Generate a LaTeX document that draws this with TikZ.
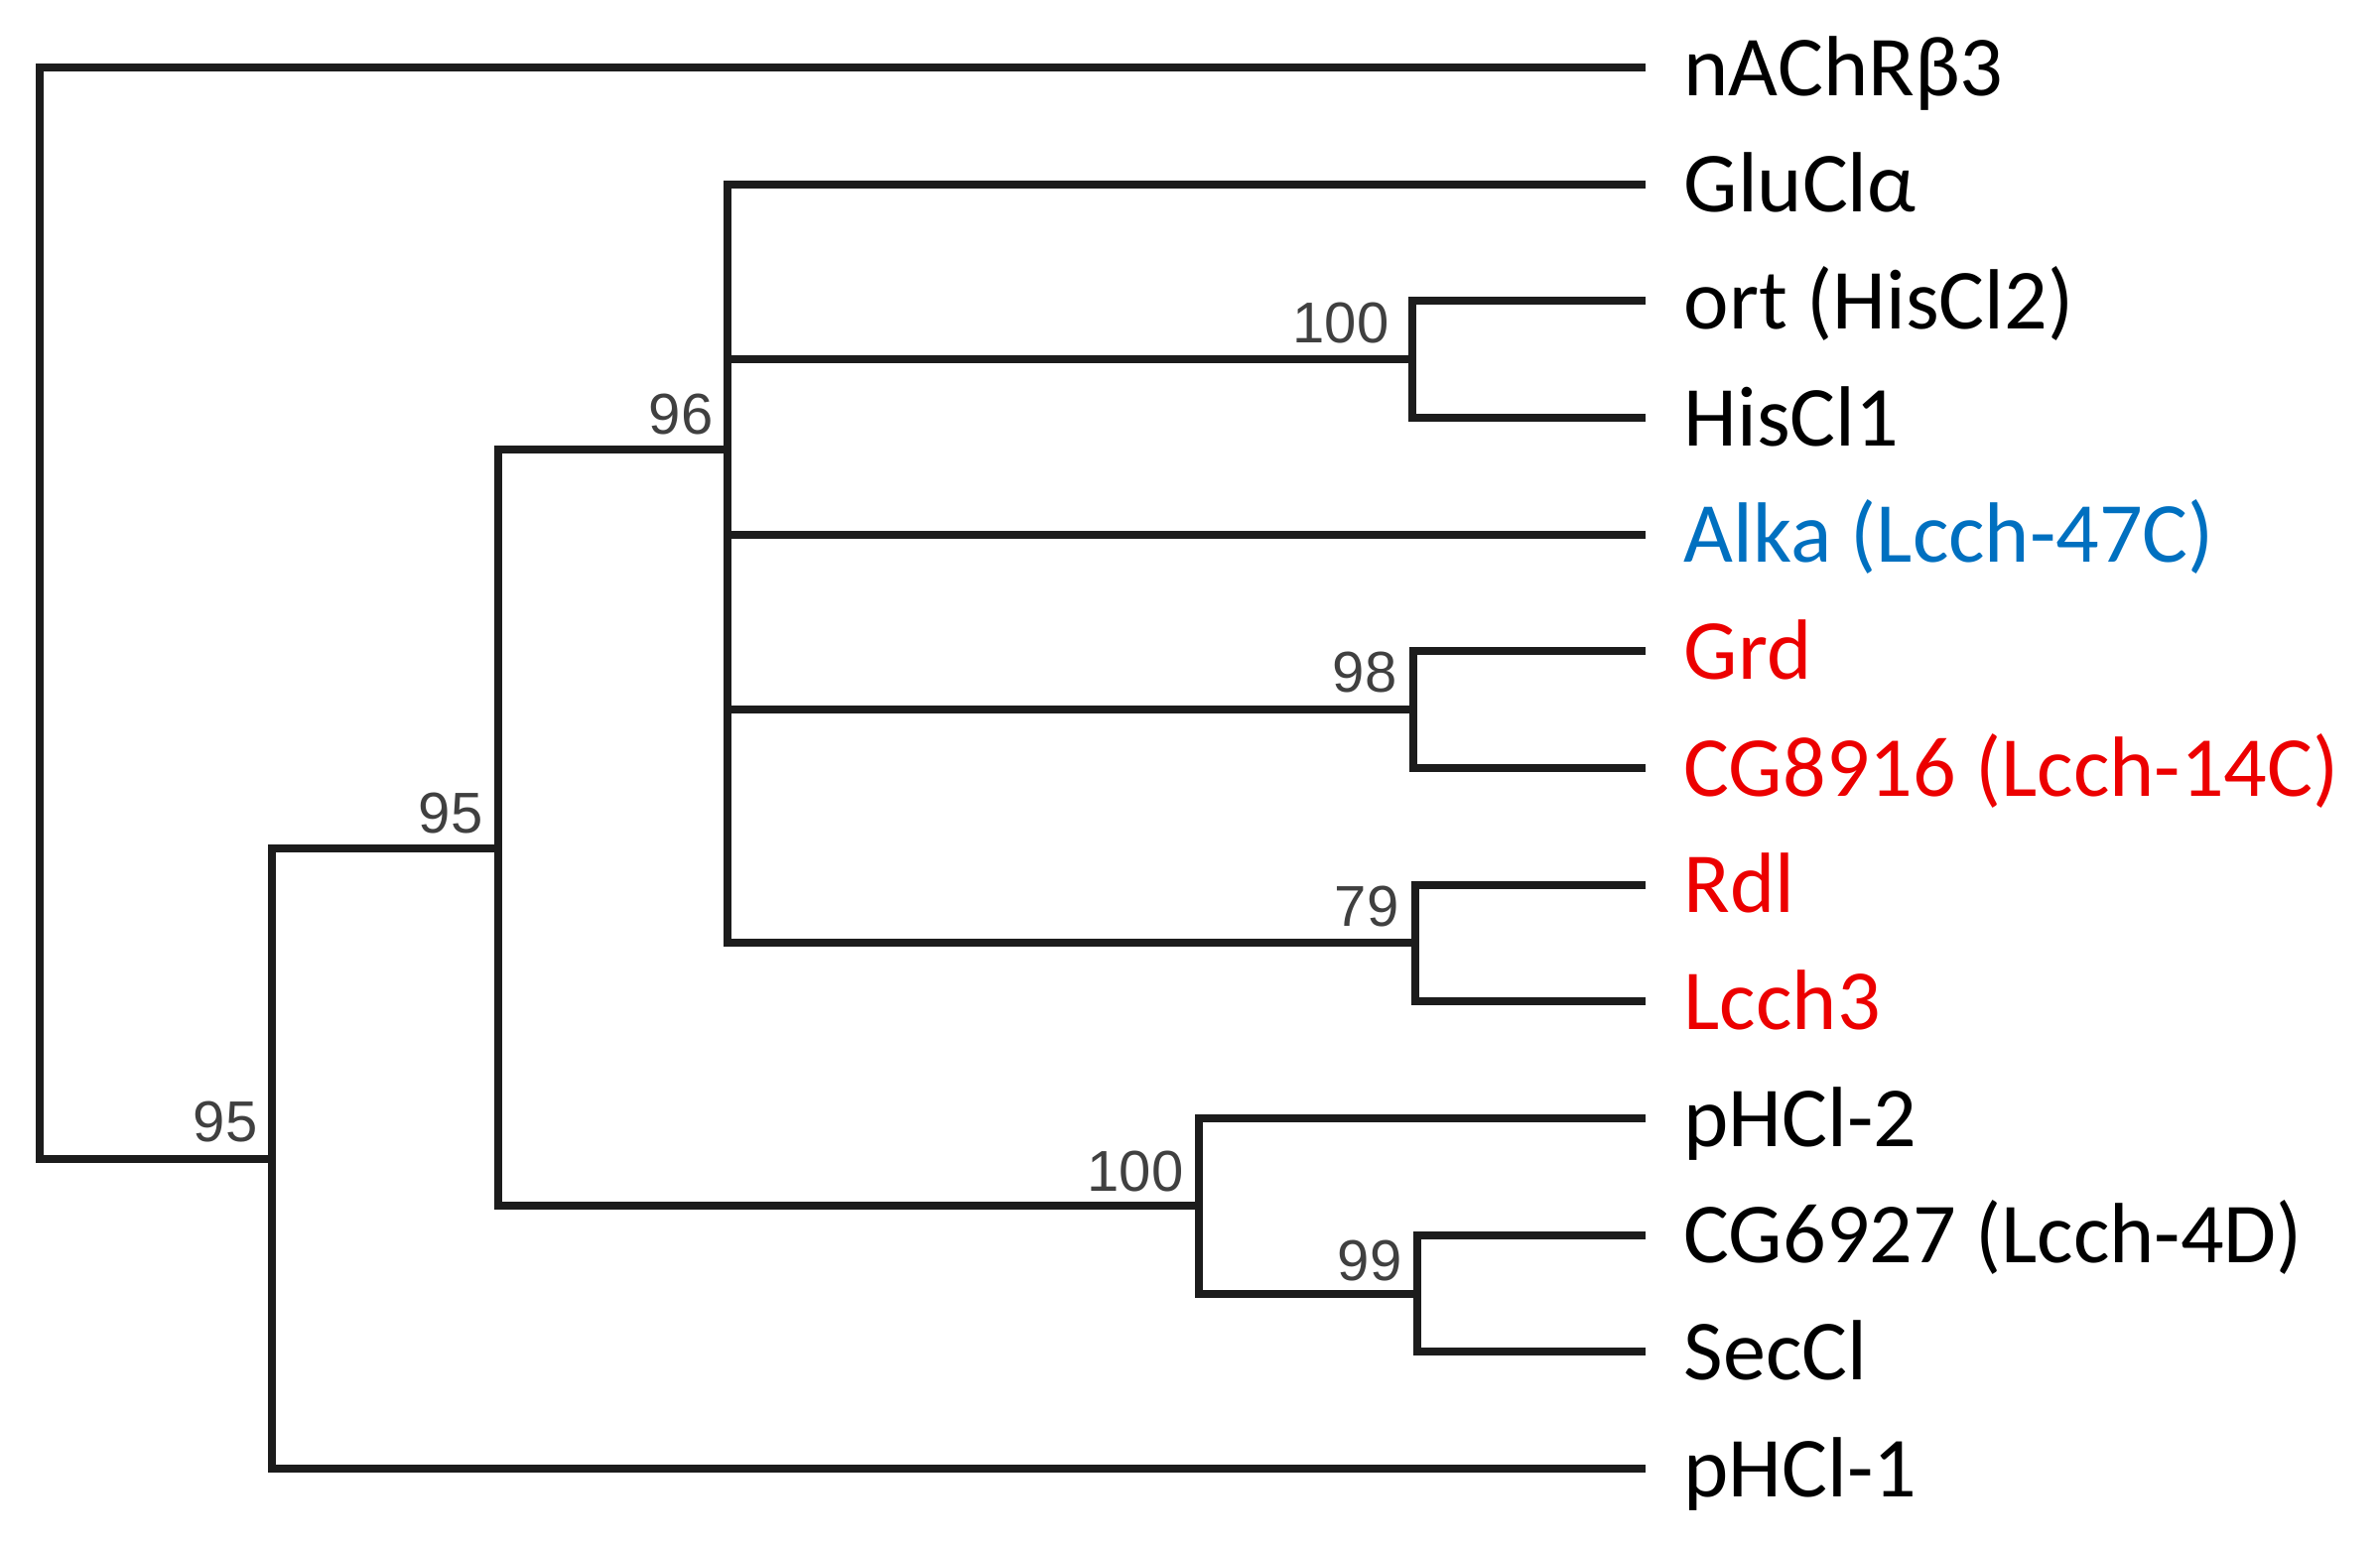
\documentclass[tikz,border=0pt]{standalone}
\usepackage{fontspec}
\setmainfont{Carlito}
\newfontfamily\bootfont{Liberation Sans}
\definecolor{treeline}{RGB}{28,28,28}
\definecolor{bootgray}{RGB}{64,64,64}
\definecolor{tipred}{RGB}{236,0,0}
\definecolor{tipblue}{RGB}{0,112,192}
\tikzset{
  branch/.style={draw=treeline, line width=0.08cm, line join=miter},
  tiplabel/.style={anchor=base west, inner sep=0pt, font=\fontsize{24.5}{28}\selectfont},
  bootlabel/.style={anchor=base east, inner sep=0pt, text=bootgray, font=\bootfont\fontsize{16.5}{19}\selectfont}
}
\begin{document}
\begin{tikzpicture}[x=0.01cm,y=-0.01cm]
\useasboundingbox (0,0) rectangle (2398,1559);
\fill[white] (0,0) rectangle (2398,1559);
% tip ends
\coordinate (tNAChR)  at (1658,68);
\coordinate (tGluCl)  at (1658,185.7);
\coordinate (tOrt)    at (1658,303.3);
\coordinate (tHisCl)  at (1658,421);
\coordinate (tAlka)   at (1658,538.7);
\coordinate (tGrd)    at (1658,656.3);
\coordinate (tCG8916) at (1658,774);
\coordinate (tRdl)    at (1658,891.7);
\coordinate (tLcch)   at (1658,1009.3);
\coordinate (tPHCl2)  at (1658,1127);
\coordinate (tCG6927) at (1658,1244.7);
\coordinate (tSecCl)  at (1658,1362.3);
\coordinate (tPHCl1)  at (1658,1480);
% internal nodes
\coordinate (root)  at (40,618);
\coordinate (n95a)  at (274,1168);
\coordinate (n95b)  at (502,855);
\coordinate (n96)   at (733,453);
\coordinate (n100a) at (1423,362);
\coordinate (n98)   at (1424,715);
\coordinate (n79)   at (1426,950);
\coordinate (n100b) at (1208,1215);
\coordinate (n99)   at (1428,1303.5);
% branches
\draw[branch] (root) |- (tNAChR);
\draw[branch] (root) |- (n95a);
\draw[branch] (n95a) |- (n95b);
\draw[branch] (n95a) |- (tPHCl1);
\draw[branch] (n95b) |- (n96);
\draw[branch] (n95b) |- (n100b);
\draw[branch] (n96) |- (tGluCl);
\draw[branch] (n96) |- (n100a);
\draw[branch] (n96) |- (tAlka);
\draw[branch] (n96) |- (n98);
\draw[branch] (n96) |- (n79);
\draw[branch] (n100a) |- (tOrt);
\draw[branch] (n100a) |- (tHisCl);
\draw[branch] (n98) |- (tGrd);
\draw[branch] (n98) |- (tCG8916);
\draw[branch] (n79) |- (tRdl);
\draw[branch] (n79) |- (tLcch);
\draw[branch] (n100b) |- (tPHCl2);
\draw[branch] (n100b) |- (n99);
\draw[branch] (n99) |- (tCG6927);
\draw[branch] (n99) |- (tSecCl);
% tip labels
\node[tiplabel] (lNAChR)  at (1696,96) {nAChRβ3};
\node[tiplabel] (lGluCl)  at (1696,213.7) {GluClα};
\node[tiplabel] (lOrt)    at (1696,331.3) {ort (HisCl2)};
\node[tiplabel] (lHisCl)  at (1696,449) {HisCl1};
\node[tiplabel, text=tipblue] (lAlka) at (1696,566.7) {Alka (Lcch-47C)};
\node[tiplabel, text=tipred] (lGrd)    at (1696,684.3) {Grd};
\node[tiplabel, text=tipred] (lCG8916) at (1696,802) {CG8916 (Lcch-14C)};
\node[tiplabel, text=tipred] (lRdl)    at (1696,919.7) {Rdl};
\node[tiplabel, text=tipred] (lLcch)   at (1696,1037.3) {Lcch3};
\node[tiplabel] (lPHCl2)  at (1696,1155) {pHCl-2};
\node[tiplabel] (lCG6927) at (1696,1272.7) {CG6927 (Lcch-4D)};
\node[tiplabel] (lSecCl)  at (1696,1390.3) {SecCl};
\node[tiplabel] (lPHCl1)  at (1696,1508) {pHCl-1};
% bootstrap values
\node[bootlabel] (b96)   at (719,437) {96};
\node[bootlabel] (b95b)  at (487,839) {95};
\node[bootlabel] (b95a)  at (260,1150) {95};
\node[bootlabel] (b100a) at (1400,345) {100};
\node[bootlabel] (b98)   at (1408,697) {98};
\node[bootlabel] (b79)   at (1410,933) {79};
\node[bootlabel] (b100b) at (1193,1200) {100};
\node[bootlabel] (b99)   at (1413,1290) {99};
\end{tikzpicture}
\end{document}
